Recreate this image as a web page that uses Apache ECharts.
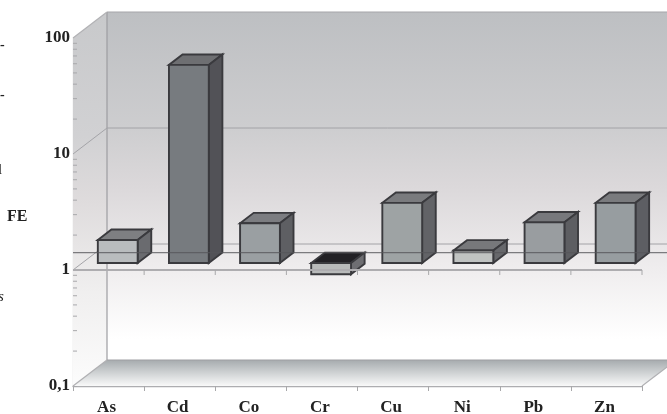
<!DOCTYPE html>
<html><head><meta charset="utf-8">
<style>html,body{margin:0;padding:0;background:#fff}#c{width:667px;height:414px;filter:blur(0.55px)}</style>
<script src="https://cdn.jsdelivr.net/npm/echarts@6/dist/echarts.min.js"></script>
</head><body><div id="c"></div>
<script>
const categories = ['As','Cd','Co','Cr','Cu','Ni','Pb','Zn'];
const feValues = [1.58, 51, 2.2, 0.8, 3.3, 1.28, 2.24, 3.3];
const yTicks = [0.1, 1, 10, 100];
const minorMultipliers = [2,3,4,5,6,7,8,9];

// styles, one per category
const frontColors = ['#b9bcbe','#777b7f','#9a9fa2','#b8baba','#9ea3a4','#c0c3c2','#999da0','#979da0'];
const topColors   = ['#7e7f82','#6e6f72','#7c7d81','#222125','#7a7b7e','#77787b','#77787c','#7a7b7e'];
const sideColors  = ['#6a6b6f','#525257','#5e5f63','#6e6e72','#626367','#67686c','#5d5e62','#5d5e63'];

const DX = 34, DY = -26;
const Z_FRONT = 0.27, Z_BACK = 0.67;
const edge = '#3a3a3e';
const G = (stops) => new echarts.graphic.LinearGradient(0,0,0,1,stops.map(s=>({offset:s[0],color:s[1]})));

function frame(api){
  const band = api.size([1,0])[0];
  const L = api.coord([0,1])[0]-band/2, R = api.coord([categories.length-1,1])[0]+band/2;
  return {band,L,R,y:v=>api.coord([0,v])[1]};
}
function ln(x1,y1,x2,y2,stroke,w){return {type:'line',shape:{x1,y1,x2,y2},style:{stroke,lineWidth:w||1,fill:null},silent:true};}
function poly(points,fill,stroke,w){return {type:'polygon',shape:{points},style:{fill,stroke:stroke||null,lineWidth:w||0},silent:true};}

function renderWalls(p,api){
  const {L,R,y}=frame(api);
  const top=y(100),bot=y(0.1),wall='#9d9da1',kids=[];
  const wallStops=[[0,'#bdbfc2'],[0.33,'#cdcdcf'],[0.5,'#dbd8da'],[0.75,'#f0eeef'],[0.94,'#ffffff'],[1,'#ffffff']];
  kids.push(poly([[L,top],[L+DX,top+DY],[L+DX,bot+DY],[L,bot]],G([[0,'#c8c9cb'],[0.33,'#d1d1d3'],[0.5,'#dedbdc'],[0.75,'#f0efef'],[1,'#fcfcfc']])));
  kids.push(poly([[L+DX,top+DY],[R+DX,top+DY],[R+DX,bot+DY],[L+DX,bot+DY]],G(wallStops)));
  kids.push(poly([[L,bot],[L+DX,bot+DY],[R+DX,bot+DY],[R,bot]],G([[0,'#a6abae'],[0.3,'#bfc3c5'],[0.7,'#e0e2e3'],[1,'#f9f9f9']])));
  kids.push(ln(L+DX,top+DY,R+DX,top+DY,'#a5a5a9',1.2));
  kids.push(ln(L+DX,top+DY,L+DX,bot+DY,wall,1.2));
  kids.push(ln(L,top,L+DX,top+DY,'#b2b2b5',1.2));
  kids.push(ln(L+DX,bot+DY,R+DX,bot+DY,'#a0a0a4',1.2));
  kids.push(ln(L,bot,L+DX,bot+DY,'#b0b0b3',1.2));
  kids.push(ln(R,bot,R+DX,bot+DY,'#b0b0b3',1.2));
  [1,10].forEach(v=>{
    kids.push(ln(L,y(v),L+DX,y(v)+DY,'#a4a4a8',1));
    kids.push(ln(L+DX,y(v)+DY,R+DX,y(v)+DY,'#a2a2a6',1));
  });
  yTicks.slice(0,-1).forEach(d=>minorMultipliers.forEach(m=>{
    kids.push(ln(L,y(d*m),L+4,y(d*m),'#a8a8ab',1));
  }));
  return {type:'group',children:kids};
}

function renderBar(p,api){
  const i=api.value(0),v=api.value(1);
  const base=api.coord([i,1]),t=api.coord([i,v]);
  const band=api.size([1,0])[0],w=band*0.56;
  const xl=base[0]-w/2+Z_FRONT*DX,xr=xl+w;
  const y0=base[1]+Z_FRONT*DY,y1=t[1]+Z_FRONT*DY;
  const yt=Math.min(y0,y1),yb=Math.max(y0,y1);
  const ox=(Z_BACK-Z_FRONT)*DX,oy=(Z_BACK-Z_FRONT)*DY;
  return {type:'group',children:[
    poly([[xl,yt],[xr,yt],[xr+ox,yt+oy],[xl+ox,yt+oy]],topColors[i],edge,1.9),
    poly([[xr,yb],[xr+ox,yb+oy],[xr+ox,yt+oy],[xr,yt]],sideColors[i],edge,1.9),
    poly([[xl,yb],[xr,yb],[xr,yt],[xl,yt]],frontColors[i],edge,1.9)
  ]};
}

function renderOverlay(p,api){
  const {band,L,R,y}=frame(api);
  const y1=y(1),kids=[];
  const ym=y1+Z_BACK*DY;
  kids.push(ln(L,ym,R+DX,ym,'rgba(85,85,90,0.75)',1.4));
  kids.push(ln(L,y1,R,y1,'#aeadb0',1.8));
  categories.forEach((c,i)=>{
    const x=L+band*(i+1);
    kids.push(ln(x,y1,x,y1+5,'#a8a8aa',1));
  });
  return {type:'group',children:kids};
}

const straySerif='"Liberation Serif",serif';
const chart=echarts.init(document.getElementById('c'));
chart.setOption({
  animation:false,
  backgroundColor:'#fff',
  grid:{left:73,right:25,top:38,bottom:28,containLabel:false,outerBoundsMode:'none'},
  xAxis:{type:'category',data:categories,
    axisLine:{show:true,onZero:false,lineStyle:{color:'#adadb0',width:1.4}},
    axisTick:{show:true,length:5,lineStyle:{color:'#a8a8aa'}},
    axisLabel:{margin:13,padding:[0,4,0,0],fontFamily:straySerif,fontWeight:'bold',fontSize:17,color:'#222'},
    splitLine:{show:false}},
  yAxis:{type:'log',logBase:10,min:0.1,max:100,
    axisLine:{show:true,lineStyle:{color:'#adadb0',width:1.2}},
    axisTick:{show:true,inside:true,length:4,lineStyle:{color:'#a8a8ab'}},
    axisLabel:{margin:3,fontFamily:straySerif,fontWeight:'bold',fontSize:17,color:'#222',
      formatter:v=>String(v).replace('.',',')},
    splitLine:{show:false},minorTick:{show:false}},
  series:[
    {type:'custom',clip:false,z:1,silent:true,renderItem:renderWalls,data:[[0,1]]},
    {type:'custom',clip:false,z:3,silent:true,renderItem:renderBar,data:feValues.map((v,i)=>[i,v])},
    {type:'custom',clip:false,z:4,silent:true,renderItem:renderOverlay,data:[[0,1]]}
  ],
  graphic:[
    {type:'text',left:7,top:209,style:{text:'FE',font:'bold 16px '+straySerif,fill:'#222'}},
    {type:'text',left:0,top:38,style:{text:'-',font:'bold 14px '+straySerif,fill:'#222'}},
    {type:'text',left:0,top:88,style:{text:'-',font:'bold 14px '+straySerif,fill:'#222'}},
    {type:'text',left:-2,top:163,style:{text:'l',font:'15px '+straySerif,fill:'#222'}},
    {type:'text',left:-2,top:290,style:{text:'s',font:'italic 15px '+straySerif,fill:'#222'}}
  ]
});
</script></body></html>
